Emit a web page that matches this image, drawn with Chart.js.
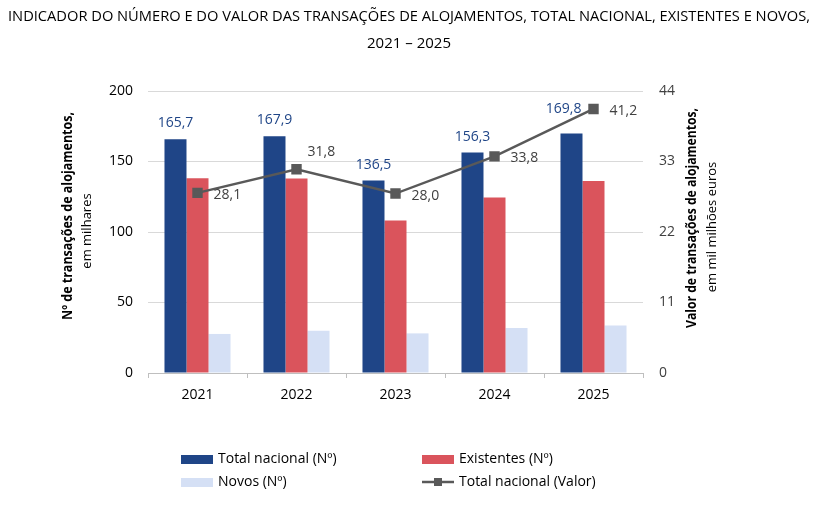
<!DOCTYPE html>
<html lang="pt">
<head>
<meta charset="utf-8">
<script src="https://cdn.jsdelivr.net/npm/chart.js@4.4.1/dist/chart.umd.min.js"></script>
<style>
  html, body { margin: 0; padding: 0; background: #fff; }
  #wrap { width: 818px; height: 507px; position: relative; }
</style>
</head>
<body>
<div id="wrap"><canvas id="chart"></canvas></div>
<script>
// dados
const anos        = ['2021', '2022', '2023', '2024', '2025'];
const totalNum    = [165.7, 167.9, 136.5, 156.3, 169.8];
const existentes  = [138.1, 138.0, 108.1, 124.4, 136.2];
const novos       = [27.7, 30.0, 28.1, 31.9, 33.6];
const totalValor  = [28.1, 31.8, 28.0, 33.8, 41.2];
const ticksEsq    = [0, 50, 100, 150, 200];
const ticksDir    = [0, 11, 22, 33, 44];

const FONT = '"Open Sans", "Noto Sans", sans-serif';
const fmt = (v) => v.toFixed(1).replace('.', ',');

const COL_TOTAL = '#1F4587';
const COL_EXIST = '#DA545C';
const COL_NOVOS = '#D5E0F5';
const COL_LINHA = '#595959';

const TITULO_1 = 'INDICADOR DO NÚMERO E DO VALOR DAS TRANSAÇÕES DE ALOJAMENTOS, TOTAL NACIONAL, EXISTENTES E NOVOS,';
const TITULO_2 = '2021 – 2025';

// título, títulos dos eixos, rótulos e legenda desenhados à mão
const extras = {
    id: 'extras',
    afterDatasetsDraw(chart) {
        const { ctx } = chart;
        const metaTot = chart.getDatasetMeta(0);
        const metaLin = chart.getDatasetMeta(3);

        ctx.save();
        // rótulos da série total (barras)
        ctx.font = `14px ${FONT}`;
        ctx.fillStyle = '#1F4587';
        ctx.textBaseline = 'middle';
        ctx.textAlign = 'center';
        metaTot.data.forEach((bar, i) => {
            const txt = fmt(totalNum[i]);
            const w = ctx.measureText(txt).width;
            const pt = metaLin.data[i];
            let x = bar.x, y = bar.y - 16;
            if (pt.y < bar.y) {          // marcador acima da barra: encosta à esquerda
                x = pt.x - 12 - w / 2;
                y = pt.y;
            }
            ctx.fillText(txt, x, y);
        });

        // rótulos da linha
        ctx.fillStyle = '#404040';
        ctx.textAlign = 'left';
        metaLin.data.forEach((pt, i) => {
            const desce = i < totalValor.length - 1 && totalValor[i + 1] < totalValor[i];
            const y = desce ? pt.y - 17 : pt.y + 2;
            ctx.fillText(fmt(totalValor[i]), pt.x + (desce ? 11 : 16), y);
        });
        ctx.restore();
    },
    afterDraw(chart) {
        const { ctx } = chart;
        ctx.save();
        ctx.fillStyle = '#000';
        ctx.textAlign = 'center';
        ctx.textBaseline = 'middle';
        ctx.font = `15px ${FONT}`;
        ctx.fillText(TITULO_1, 409, 17, 802);
        ctx.fillText(TITULO_2, 409, 44);

        // títulos dos eixos
        const rot = (x, y, txt, font, maxW) => {
            ctx.save();
            ctx.translate(x, y);
            ctx.rotate(-Math.PI / 2);
            ctx.font = font;
            ctx.fillStyle = '#000';
            ctx.fillText(txt, 0, 0, maxW);
            ctx.restore();
        };
        rot(68, 216, 'Nº de transações de alojamentos,', `bold 14px ${FONT}`, 208);
        rot(87, 231, 'em milhares', `13px ${FONT}`, 86);
        rot(692, 218, 'Valor de transações de alojamentos,', `bold 14px ${FONT}`, 220);
        rot(712, 227, 'em mil milhões euros', `13px ${FONT}`, 134);

        // legenda
        ctx.font = `14px ${FONT}`;
        ctx.textAlign = 'left';
        const itens = [
            { x: 181, y: 459, cor: COL_TOTAL, txt: 'Total nacional (Nº)' },
            { x: 422, y: 459, cor: COL_EXIST, txt: 'Existentes (Nº)' },
            { x: 181, y: 482, cor: COL_NOVOS, txt: 'Novos (Nº)' },
            { x: 422, y: 482, cor: null, txt: 'Total nacional (Valor)' },
        ];
        itens.forEach((it) => {
            if (it.cor) {
                ctx.fillStyle = it.cor;
                ctx.fillRect(it.x, it.y - 4, 32, 9);
            } else {
                ctx.strokeStyle = COL_LINHA;
                ctx.lineWidth = 2.5;
                ctx.beginPath();
                ctx.moveTo(it.x, it.y);
                ctx.lineTo(it.x + 32, it.y);
                ctx.stroke();
                ctx.fillStyle = COL_LINHA;
                ctx.fillRect(it.x + 12, it.y - 4, 8, 8);
            }
            ctx.fillStyle = '#000';
            ctx.fillText(it.txt, it.x + 37, it.y);
        });
        ctx.restore();
    },
};

new Chart(document.getElementById('chart'), {
    type: 'bar',
    data: {
        labels: anos,
        datasets: [
            { label: 'Total nacional (Nº)', data: totalNum, backgroundColor: COL_TOTAL, yAxisID: 'y', order: 2 },
            { label: 'Existentes (Nº)', data: existentes, backgroundColor: COL_EXIST, yAxisID: 'y', order: 2 },
            { label: 'Novos (Nº)', data: novos, backgroundColor: COL_NOVOS, yAxisID: 'y', order: 2 },
            {
                type: 'line',
                label: 'Total nacional (Valor)',
                data: totalValor,
                yAxisID: 'y1',
                borderColor: COL_LINHA,
                backgroundColor: COL_LINHA,
                borderWidth: 2.5,
                pointStyle: 'rect',
                pointRadius: 5.6,
                pointHoverRadius: 5.6,
                tension: 0,
                order: 1,
            },
        ],
    },
    options: {
        responsive: true,
        maintainAspectRatio: false,
        animation: false,
        datasets: { bar: { categoryPercentage: 0.667, barPercentage: 1.0 } },
        layout: { padding: { top: 91, left: 0, right: 0, bottom: 0 } },
        plugins: {
            legend: { display: false },
            title: { display: false },
            tooltip: { enabled: false },
        },
        scales: {
            x: {
                grid: { display: true, drawOnChartArea: false, drawTicks: true, tickLength: 5, color: '#BFBFBF', offset: true },
                border: { display: true, color: '#BFBFBF' },
                ticks: { color: '#000', font: { family: FONT, size: 14 }, padding: 9 },
                afterFit: (s) => { s.height = 134; },
            },
            y: {
                position: 'left',
                min: 0, max: 200,
                afterBuildTicks: (s) => { s.ticks = ticksEsq.map((v) => ({ value: v })); },
                ticks: { color: '#000', font: { family: FONT, size: 14 }, padding: 15 },
                grid: { color: '#D9D9D9', drawTicks: false },
                border: { display: false },
                afterFit: (s) => { s.width = 148; },
            },
            y1: {
                position: 'right',
                min: 0, max: 44,
                afterBuildTicks: (s) => { s.ticks = ticksDir.map((v) => ({ value: v })); },
                ticks: { color: '#404040', font: { family: FONT, size: 14 }, padding: 16 },
                grid: { display: false, drawTicks: false },
                border: { display: false },
                afterFit: (s) => { s.width = 175; },
            },
        },
    },
    plugins: [extras],
});
</script>
</body>
</html>
